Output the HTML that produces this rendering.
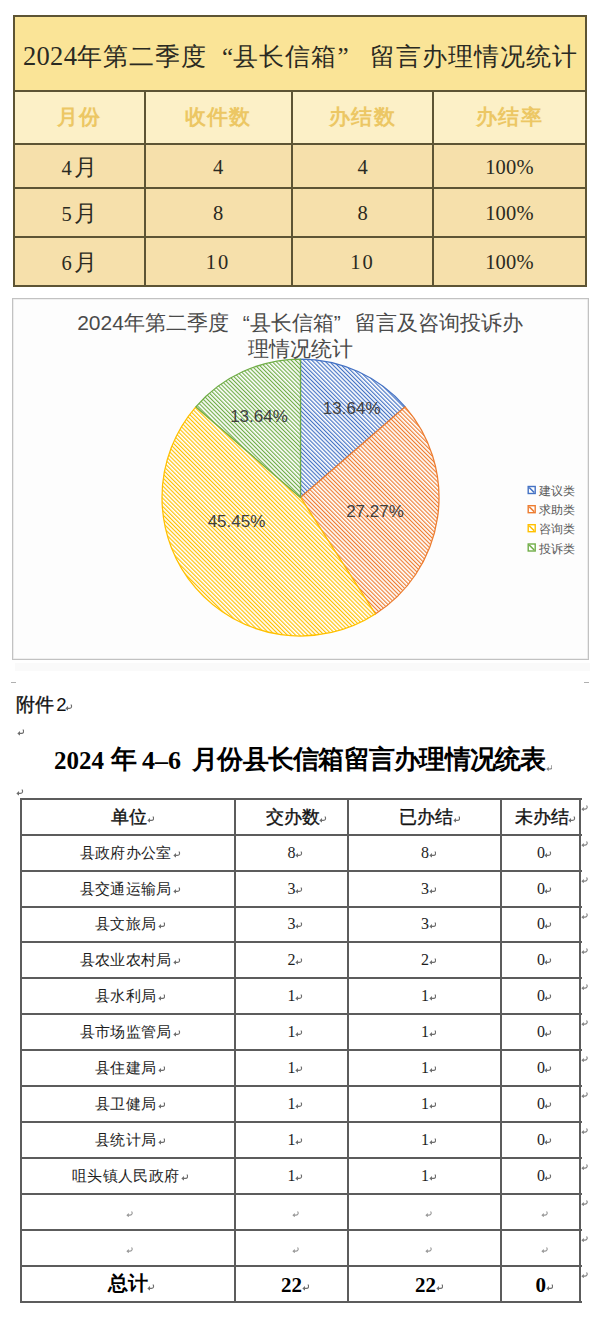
<!DOCTYPE html>
<html><head><meta charset="utf-8">
<style>
html,body{margin:0;padding:0;background:#fff;}
body{width:600px;height:1323px;position:relative;overflow:hidden;font-family:"Liberation Serif",serif;}
.a{position:absolute;}
.h{position:absolute;height:2px;background:#5d5434;}
.v{position:absolute;width:2px;background:#5d5434;}
.t{position:absolute;white-space:nowrap;line-height:1;}
.c{text-align:center;}
.gold{color:#ecc764;font-weight:bold;font-size:21px;letter-spacing:1.2px;}
.dk{color:#2a2a22;}
.bh{position:absolute;height:2px;background:#5c5c5c;}
.bv{position:absolute;width:2px;background:#5c5c5c;}
.pm{display:inline-block;width:8px;height:7px;vertical-align:baseline;margin-left:1px;}
</style></head><body>

<!-- ===== TOP TABLE ===== -->
<div class="a" style="left:14px;top:16px;width:572px;height:75px;background:#fae497;"></div>
<div class="a" style="left:14px;top:91px;width:572px;height:53px;background:#fcf0c7;"></div>
<div class="a" style="left:14px;top:144px;width:572px;height:142px;background:#f6e0ab;"></div>

<div class="h" style="left:13px;top:15px;width:574px;"></div>
<div class="h" style="left:13px;top:90px;width:574px;"></div>
<div class="h" style="left:13px;top:143px;width:574px;"></div>
<div class="h" style="left:13px;top:187px;width:574px;"></div>
<div class="h" style="left:13px;top:236px;width:574px;"></div>
<div class="h" style="left:13px;top:285px;width:574px;"></div>
<div class="v" style="left:13px;top:15px;height:272px;"></div>
<div class="v" style="left:585px;top:15px;height:272px;"></div>
<div class="v" style="left:143.5px;top:90px;height:197px;"></div>
<div class="v" style="left:291px;top:90px;height:197px;"></div>
<div class="v" style="left:432px;top:90px;height:197px;"></div>

<div class="t dk" style="left:23px;top:43px;font-size:25px;letter-spacing:1.1px;font-weight:300;"><span style="display:inline-block;width:53.5px;font-size:26.5px;letter-spacing:0.3px;position:relative;top:-0.5px">2024</span>年第二季度<span style="display:inline-block;width:26.1px;text-align:right;letter-spacing:0">“</span>县长信箱<span style="display:inline-block;width:32px;text-align:left;letter-spacing:0">”</span>留言办理情况统计</div>

<div class="t c gold" style="left:14px;width:130px;top:107px;">月份</div>
<div class="t c gold" style="left:144px;width:148px;top:107px;">收件数</div>
<div class="t c gold" style="left:292px;width:141px;top:107px;">办结数</div>
<div class="t c gold" style="left:433px;width:153px;top:107px;">办结率</div>

<div class="t c dk" style="left:14px;width:130px;top:157px;font-size:20.5px;">4<span style="font-size:22.5px;margin-left:2px">月</span></div>
<div class="t c dk" style="left:144px;width:148px;top:157px;font-size:20.5px;letter-spacing:0;">4</div>
<div class="t c dk" style="left:292px;width:141px;top:157px;font-size:20.5px;letter-spacing:0;">4</div>
<div class="t c dk" style="left:433px;width:153px;top:157px;font-size:20.5px;letter-spacing:0.2px;">100%</div>
<div class="t c dk" style="left:14px;width:130px;top:203px;font-size:20.5px;">5<span style="font-size:22.5px;margin-left:2px">月</span></div>
<div class="t c dk" style="left:144px;width:148px;top:203px;font-size:20.5px;letter-spacing:0;">8</div>
<div class="t c dk" style="left:292px;width:141px;top:203px;font-size:20.5px;letter-spacing:0;">8</div>
<div class="t c dk" style="left:433px;width:153px;top:203px;font-size:20.5px;letter-spacing:0.2px;">100%</div>
<div class="t c dk" style="left:14px;width:130px;top:251.5px;font-size:20.5px;">6<span style="font-size:22.5px;margin-left:2px">月</span></div>
<div class="t c dk" style="left:144px;width:148px;top:251.5px;font-size:20.5px;letter-spacing:2px;">10</div>
<div class="t c dk" style="left:292px;width:141px;top:251.5px;font-size:20.5px;letter-spacing:2px;">10</div>
<div class="t c dk" style="left:433px;width:153px;top:251.5px;font-size:20.5px;letter-spacing:0.2px;">100%</div>

<!-- ===== CHART ===== -->
<div class="a" style="left:11.6px;top:297.5px;width:575.4px;height:360px;border:1px solid #c2c2c2;box-shadow:inset 0 0 0 0.6px #e2e2e2;background:#fdfdfd;"></div>


<svg class="a" style="left:0;top:0" width="600" height="700" viewBox="0 0 600 700">
<defs>
<pattern id="pb" patternUnits="userSpaceOnUse" width="2.9" height="10" patternTransform="rotate(-45)"><rect width="2.9" height="10" fill="#fff"/><rect width="1.15" height="10" fill="#4472c4"/></pattern>
<pattern id="po" patternUnits="userSpaceOnUse" width="2.9" height="10" patternTransform="rotate(-45)"><rect width="2.9" height="10" fill="#fff"/><rect width="1.15" height="10" fill="#ed7d31"/></pattern>
<pattern id="py" patternUnits="userSpaceOnUse" width="2.9" height="10" patternTransform="rotate(-45)"><rect width="2.9" height="10" fill="#fff"/><rect width="1.15" height="10" fill="#ffc000"/></pattern>
<pattern id="pg" patternUnits="userSpaceOnUse" width="2.9" height="10" patternTransform="rotate(-45)"><rect width="2.9" height="10" fill="#fff"/><rect width="1.15" height="10" fill="#70ad47"/></pattern>
</defs>
<path d="M300.5 497.5 L300.50 359.00 A138.5 138.5 0 0 1 405.17 406.80 Z" fill="url(#pb)" stroke="#4472c4" stroke-width="1.25" stroke-linejoin="round"/>
<path d="M300.5 497.5 L405.17 406.80 A138.5 138.5 0 0 1 375.38 614.01 Z" fill="url(#po)" stroke="#ed7d31" stroke-width="1.25" stroke-linejoin="round"/>
<path d="M300.5 497.5 L375.38 614.01 A138.5 138.5 0 0 1 195.83 406.80 Z" fill="url(#py)" stroke="#ffc000" stroke-width="1.25" stroke-linejoin="round"/>
<path d="M300.5 497.5 L195.83 406.80 A138.5 138.5 0 0 1 300.50 359.00 Z" fill="url(#pg)" stroke="#70ad47" stroke-width="1.25" stroke-linejoin="round"/>
<g font-family="Liberation Sans" font-size="17" fill="#404040" text-anchor="middle">
<text x="351.7" y="413.6">13.64%</text>
<text x="259" y="421.6">13.64%</text>
<text x="375" y="516.7">27.27%</text>
<text x="236.5" y="527.4">45.45%</text>
</g>
<rect x="528.2" y="486.5" width="7" height="7" fill="#fff" stroke="#4472c4" stroke-width="1.4"/><path d="M529.2 487.5 L534.2 492.5" stroke="#4472c4" stroke-width="1.6"/>
<rect x="528.2" y="505.7" width="7" height="7" fill="#fff" stroke="#ed7d31" stroke-width="1.4"/><path d="M529.2 506.7 L534.2 511.7" stroke="#ed7d31" stroke-width="1.6"/>
<rect x="528.2" y="524.7" width="7" height="7" fill="#fff" stroke="#ffc000" stroke-width="1.4"/><path d="M529.2 525.7 L534.2 530.7" stroke="#ffc000" stroke-width="1.6"/>
<rect x="528.2" y="544.0" width="7" height="7" fill="#fff" stroke="#70ad47" stroke-width="1.4"/><path d="M529.2 545.0 L534.2 550.0" stroke="#70ad47" stroke-width="1.6"/>
</svg>
<div class="t" style="left:539px;top:482px;font-family:'Liberation Sans',sans-serif;font-size:12px;color:#595959;line-height:19.2px;">建议类<br>求助类<br>咨询类<br>投诉类</div>
<div class="t c" style="left:0;width:600px;top:310px;font-family:'Liberation Sans',sans-serif;font-size:21px;color:#4a4a4a;line-height:26px;">2024年第二季度<span style="display:inline-block;width:21px;text-align:right">“</span>县长信箱<span style="display:inline-block;width:21px;text-align:left">”</span>留言及咨询投诉办<br>理情况统计</div>


<!-- ===== DOC ===== -->
<svg width="0" height="0" style="position:absolute"><defs><symbol id="pm" viewBox="0 0 8 7"><path d="M6.6 0.6 C7.4 2.2 7.2 4.4 4.6 4.5 L2.6 4.5" fill="none" stroke="#6e6e6e" stroke-width="1.3" stroke-linecap="round"/><path d="M0.4 4.5 L3.2 2.0 L3.2 7.0 Z" fill="#6e6e6e"/></symbol></defs></svg>
<div class="a" style="left:15px;top:663px;width:575px;height:8px;background:#fafafa"></div>
<div class="a" style="left:11px;top:682px;width:5px;height:1px;background:#b0b0b0"></div>
<div class="a" style="left:584px;top:682px;width:5px;height:1px;background:#b0b0b0"></div>
<div class="t" style="left:16px;top:695.5px;font-family:'Liberation Sans',sans-serif;font-size:18.5px;-webkit-text-stroke:0.35px #111;color:#111;">附件</div>
<div class="t" style="left:56.3px;top:695.5px;font-family:'Liberation Sans',sans-serif;font-size:18.5px;color:#111;">2</div>
<svg class="a" style="left:65.2px;top:704.0px" width="7.5" height="7" viewBox="0 0 8 7"><use href="#pm"/></svg>
<svg class="a" style="left:16.5px;top:729.0px" width="7.5" height="7" viewBox="0 0 8 7"><use href="#pm"/></svg>
<div class="t" style="left:54px;top:748px;font-family:'Liberation Serif',serif;font-weight:bold;color:#000;font-size:25px;">2024</div>
<div class="t" style="left:111px;top:747px;font-family:'Liberation Serif',serif;font-weight:bold;color:#000;font-size:26px;">年</div>
<div class="t" style="left:142px;top:747.5px;font-family:'Liberation Serif',serif;font-weight:bold;color:#000;font-size:26px;">4–6</div>
<div class="t" style="left:192px;top:747px;font-family:'Liberation Serif',serif;font-weight:bold;color:#000;font-size:26px;letter-spacing:-0.75px;">月份县长信箱留言办理情况统表</div>
<svg class="a" style="left:545.6px;top:764.5px" width="6.8" height="6.3" viewBox="0 0 8 7" opacity=0.85><use href="#pm"/></svg>
<svg class="a" style="left:16.0px;top:788.5px" width="7.5" height="7" viewBox="0 0 8 7"><use href="#pm"/></svg>
<div class="bh" style="left:19.5px;top:798px;width:562px;"></div>
<div class="bh" style="left:19.5px;top:834px;width:562px;"></div>
<div class="bh" style="left:19.5px;top:870px;width:562px;"></div>
<div class="bh" style="left:19.5px;top:906px;width:562px;"></div>
<div class="bh" style="left:19.5px;top:941px;width:562px;"></div>
<div class="bh" style="left:19.5px;top:977px;width:562px;"></div>
<div class="bh" style="left:19.5px;top:1013px;width:562px;"></div>
<div class="bh" style="left:19.5px;top:1049px;width:562px;"></div>
<div class="bh" style="left:19.5px;top:1085px;width:562px;"></div>
<div class="bh" style="left:19.5px;top:1121px;width:562px;"></div>
<div class="bh" style="left:19.5px;top:1157px;width:562px;"></div>
<div class="bh" style="left:19.5px;top:1193px;width:562px;"></div>
<div class="bh" style="left:19.5px;top:1229px;width:562px;"></div>
<div class="bh" style="left:19.5px;top:1265px;width:562px;"></div>
<div class="bh" style="left:19.5px;top:1301px;width:562px;"></div>
<div class="bv" style="left:19.6px;top:798px;height:505px;"></div>
<div class="bv" style="left:233.5px;top:798px;height:505px;"></div>
<div class="bv" style="left:347.2px;top:798px;height:505px;"></div>
<div class="bv" style="left:500.4px;top:798px;height:505px;"></div>
<div class="bv" style="left:579.3px;top:798px;height:505px;"></div>
<div class="t" style="left:110.7px;top:808.5px;font-family:'Liberation Sans',sans-serif;font-size:17.5px;-webkit-text-stroke:0.35px #111;color:#111;">单位</div>
<svg class="a" style="left:146.5px;top:815.5px" width="7.5" height="7" viewBox="0 0 8 7"><use href="#pm"/></svg>
<div class="t" style="left:265.9px;top:808.5px;font-family:'Liberation Sans',sans-serif;font-size:17.5px;-webkit-text-stroke:0.35px #111;color:#111;">交办数</div>
<svg class="a" style="left:319.2px;top:815.5px" width="7.5" height="7" viewBox="0 0 8 7"><use href="#pm"/></svg>
<div class="t" style="left:399.4px;top:808.5px;font-family:'Liberation Sans',sans-serif;font-size:17.5px;-webkit-text-stroke:0.35px #111;color:#111;">已办结</div>
<svg class="a" style="left:452.7px;top:815.5px" width="7.5" height="7" viewBox="0 0 8 7"><use href="#pm"/></svg>
<div class="t" style="left:514.8px;top:808.5px;font-family:'Liberation Sans',sans-serif;font-size:17.5px;-webkit-text-stroke:0.35px #111;color:#111;">未办结</div>
<svg class="a" style="left:568.0px;top:815.5px" width="7.5" height="7" viewBox="0 0 8 7"><use href="#pm"/></svg>
<div class="t" style="left:79.6px;top:845.5px;font-family:'Liberation Serif',serif;font-size:15px;letter-spacing:0.35px;color:#1e1e1e;">县政府办公室</div>
<svg class="a" style="left:173.0px;top:850.8px" width="7.5" height="7" viewBox="0 0 8 7"><use href="#pm"/></svg>
<div class="t" style="left:287.5px;top:844.9px;font-family:'Liberation Serif',serif;font-size:16px;color:#1e1e1e;">8</div>
<svg class="a" style="left:295.0px;top:850.5px" width="7.5" height="7" viewBox="0 0 8 7"><use href="#pm"/></svg>
<div class="t" style="left:421.0px;top:844.9px;font-family:'Liberation Serif',serif;font-size:16px;color:#1e1e1e;">8</div>
<svg class="a" style="left:428.5px;top:850.5px" width="7.5" height="7" viewBox="0 0 8 7"><use href="#pm"/></svg>
<div class="t" style="left:536.9px;top:844.9px;font-family:'Liberation Serif',serif;font-size:16px;color:#1e1e1e;">0</div>
<svg class="a" style="left:544.4px;top:850.5px" width="7.5" height="7" viewBox="0 0 8 7"><use href="#pm"/></svg>
<div class="t" style="left:79.6px;top:881.5px;font-family:'Liberation Serif',serif;font-size:15px;letter-spacing:0.35px;color:#1e1e1e;">县交通运输局</div>
<svg class="a" style="left:173.0px;top:886.8px" width="7.5" height="7" viewBox="0 0 8 7"><use href="#pm"/></svg>
<div class="t" style="left:287.5px;top:880.9px;font-family:'Liberation Serif',serif;font-size:16px;color:#1e1e1e;">3</div>
<svg class="a" style="left:295.0px;top:886.5px" width="7.5" height="7" viewBox="0 0 8 7"><use href="#pm"/></svg>
<div class="t" style="left:421.0px;top:880.9px;font-family:'Liberation Serif',serif;font-size:16px;color:#1e1e1e;">3</div>
<svg class="a" style="left:428.5px;top:886.5px" width="7.5" height="7" viewBox="0 0 8 7"><use href="#pm"/></svg>
<div class="t" style="left:536.9px;top:880.9px;font-family:'Liberation Serif',serif;font-size:16px;color:#1e1e1e;">0</div>
<svg class="a" style="left:544.4px;top:886.5px" width="7.5" height="7" viewBox="0 0 8 7"><use href="#pm"/></svg>
<div class="t" style="left:95.0px;top:917.0px;font-family:'Liberation Serif',serif;font-size:15px;letter-spacing:0.35px;color:#1e1e1e;">县文旅局</div>
<svg class="a" style="left:157.6px;top:922.3px" width="7.5" height="7" viewBox="0 0 8 7"><use href="#pm"/></svg>
<div class="t" style="left:287.5px;top:916.4px;font-family:'Liberation Serif',serif;font-size:16px;color:#1e1e1e;">3</div>
<svg class="a" style="left:295.0px;top:922.0px" width="7.5" height="7" viewBox="0 0 8 7"><use href="#pm"/></svg>
<div class="t" style="left:421.0px;top:916.4px;font-family:'Liberation Serif',serif;font-size:16px;color:#1e1e1e;">3</div>
<svg class="a" style="left:428.5px;top:922.0px" width="7.5" height="7" viewBox="0 0 8 7"><use href="#pm"/></svg>
<div class="t" style="left:536.9px;top:916.4px;font-family:'Liberation Serif',serif;font-size:16px;color:#1e1e1e;">0</div>
<svg class="a" style="left:544.4px;top:922.0px" width="7.5" height="7" viewBox="0 0 8 7"><use href="#pm"/></svg>
<div class="t" style="left:79.6px;top:952.5px;font-family:'Liberation Serif',serif;font-size:15px;letter-spacing:0.35px;color:#1e1e1e;">县农业农村局</div>
<svg class="a" style="left:173.0px;top:957.8px" width="7.5" height="7" viewBox="0 0 8 7"><use href="#pm"/></svg>
<div class="t" style="left:287.5px;top:951.9px;font-family:'Liberation Serif',serif;font-size:16px;color:#1e1e1e;">2</div>
<svg class="a" style="left:295.0px;top:957.5px" width="7.5" height="7" viewBox="0 0 8 7"><use href="#pm"/></svg>
<div class="t" style="left:421.0px;top:951.9px;font-family:'Liberation Serif',serif;font-size:16px;color:#1e1e1e;">2</div>
<svg class="a" style="left:428.5px;top:957.5px" width="7.5" height="7" viewBox="0 0 8 7"><use href="#pm"/></svg>
<div class="t" style="left:536.9px;top:951.9px;font-family:'Liberation Serif',serif;font-size:16px;color:#1e1e1e;">0</div>
<svg class="a" style="left:544.4px;top:957.5px" width="7.5" height="7" viewBox="0 0 8 7"><use href="#pm"/></svg>
<div class="t" style="left:95.0px;top:988.5px;font-family:'Liberation Serif',serif;font-size:15px;letter-spacing:0.35px;color:#1e1e1e;">县水利局</div>
<svg class="a" style="left:157.6px;top:993.8px" width="7.5" height="7" viewBox="0 0 8 7"><use href="#pm"/></svg>
<div class="t" style="left:287.5px;top:987.9px;font-family:'Liberation Serif',serif;font-size:16px;color:#1e1e1e;">1</div>
<svg class="a" style="left:295.0px;top:993.5px" width="7.5" height="7" viewBox="0 0 8 7"><use href="#pm"/></svg>
<div class="t" style="left:421.0px;top:987.9px;font-family:'Liberation Serif',serif;font-size:16px;color:#1e1e1e;">1</div>
<svg class="a" style="left:428.5px;top:993.5px" width="7.5" height="7" viewBox="0 0 8 7"><use href="#pm"/></svg>
<div class="t" style="left:536.9px;top:987.9px;font-family:'Liberation Serif',serif;font-size:16px;color:#1e1e1e;">0</div>
<svg class="a" style="left:544.4px;top:993.5px" width="7.5" height="7" viewBox="0 0 8 7"><use href="#pm"/></svg>
<div class="t" style="left:79.6px;top:1024.5px;font-family:'Liberation Serif',serif;font-size:15px;letter-spacing:0.35px;color:#1e1e1e;">县市场监管局</div>
<svg class="a" style="left:173.0px;top:1029.8px" width="7.5" height="7" viewBox="0 0 8 7"><use href="#pm"/></svg>
<div class="t" style="left:287.5px;top:1023.9px;font-family:'Liberation Serif',serif;font-size:16px;color:#1e1e1e;">1</div>
<svg class="a" style="left:295.0px;top:1029.5px" width="7.5" height="7" viewBox="0 0 8 7"><use href="#pm"/></svg>
<div class="t" style="left:421.0px;top:1023.9px;font-family:'Liberation Serif',serif;font-size:16px;color:#1e1e1e;">1</div>
<svg class="a" style="left:428.5px;top:1029.5px" width="7.5" height="7" viewBox="0 0 8 7"><use href="#pm"/></svg>
<div class="t" style="left:536.9px;top:1023.9px;font-family:'Liberation Serif',serif;font-size:16px;color:#1e1e1e;">0</div>
<svg class="a" style="left:544.4px;top:1029.5px" width="7.5" height="7" viewBox="0 0 8 7"><use href="#pm"/></svg>
<div class="t" style="left:95.0px;top:1060.5px;font-family:'Liberation Serif',serif;font-size:15px;letter-spacing:0.35px;color:#1e1e1e;">县住建局</div>
<svg class="a" style="left:157.6px;top:1065.8px" width="7.5" height="7" viewBox="0 0 8 7"><use href="#pm"/></svg>
<div class="t" style="left:287.5px;top:1059.9px;font-family:'Liberation Serif',serif;font-size:16px;color:#1e1e1e;">1</div>
<svg class="a" style="left:295.0px;top:1065.5px" width="7.5" height="7" viewBox="0 0 8 7"><use href="#pm"/></svg>
<div class="t" style="left:421.0px;top:1059.9px;font-family:'Liberation Serif',serif;font-size:16px;color:#1e1e1e;">1</div>
<svg class="a" style="left:428.5px;top:1065.5px" width="7.5" height="7" viewBox="0 0 8 7"><use href="#pm"/></svg>
<div class="t" style="left:536.9px;top:1059.9px;font-family:'Liberation Serif',serif;font-size:16px;color:#1e1e1e;">0</div>
<svg class="a" style="left:544.4px;top:1065.5px" width="7.5" height="7" viewBox="0 0 8 7"><use href="#pm"/></svg>
<div class="t" style="left:95.0px;top:1096.5px;font-family:'Liberation Serif',serif;font-size:15px;letter-spacing:0.35px;color:#1e1e1e;">县卫健局</div>
<svg class="a" style="left:157.6px;top:1101.8px" width="7.5" height="7" viewBox="0 0 8 7"><use href="#pm"/></svg>
<div class="t" style="left:287.5px;top:1095.9px;font-family:'Liberation Serif',serif;font-size:16px;color:#1e1e1e;">1</div>
<svg class="a" style="left:295.0px;top:1101.5px" width="7.5" height="7" viewBox="0 0 8 7"><use href="#pm"/></svg>
<div class="t" style="left:421.0px;top:1095.9px;font-family:'Liberation Serif',serif;font-size:16px;color:#1e1e1e;">1</div>
<svg class="a" style="left:428.5px;top:1101.5px" width="7.5" height="7" viewBox="0 0 8 7"><use href="#pm"/></svg>
<div class="t" style="left:536.9px;top:1095.9px;font-family:'Liberation Serif',serif;font-size:16px;color:#1e1e1e;">0</div>
<svg class="a" style="left:544.4px;top:1101.5px" width="7.5" height="7" viewBox="0 0 8 7"><use href="#pm"/></svg>
<div class="t" style="left:95.0px;top:1132.5px;font-family:'Liberation Serif',serif;font-size:15px;letter-spacing:0.35px;color:#1e1e1e;">县统计局</div>
<svg class="a" style="left:157.6px;top:1137.8px" width="7.5" height="7" viewBox="0 0 8 7"><use href="#pm"/></svg>
<div class="t" style="left:287.5px;top:1131.9px;font-family:'Liberation Serif',serif;font-size:16px;color:#1e1e1e;">1</div>
<svg class="a" style="left:295.0px;top:1137.5px" width="7.5" height="7" viewBox="0 0 8 7"><use href="#pm"/></svg>
<div class="t" style="left:421.0px;top:1131.9px;font-family:'Liberation Serif',serif;font-size:16px;color:#1e1e1e;">1</div>
<svg class="a" style="left:428.5px;top:1137.5px" width="7.5" height="7" viewBox="0 0 8 7"><use href="#pm"/></svg>
<div class="t" style="left:536.9px;top:1131.9px;font-family:'Liberation Serif',serif;font-size:16px;color:#1e1e1e;">0</div>
<svg class="a" style="left:544.4px;top:1137.5px" width="7.5" height="7" viewBox="0 0 8 7"><use href="#pm"/></svg>
<div class="t" style="left:71.9px;top:1168.5px;font-family:'Liberation Serif',serif;font-size:15px;letter-spacing:0.35px;color:#1e1e1e;">咀头镇人民政府</div>
<svg class="a" style="left:180.7px;top:1173.8px" width="7.5" height="7" viewBox="0 0 8 7"><use href="#pm"/></svg>
<div class="t" style="left:287.5px;top:1167.9px;font-family:'Liberation Serif',serif;font-size:16px;color:#1e1e1e;">1</div>
<svg class="a" style="left:295.0px;top:1173.5px" width="7.5" height="7" viewBox="0 0 8 7"><use href="#pm"/></svg>
<div class="t" style="left:421.0px;top:1167.9px;font-family:'Liberation Serif',serif;font-size:16px;color:#1e1e1e;">1</div>
<svg class="a" style="left:428.5px;top:1173.5px" width="7.5" height="7" viewBox="0 0 8 7"><use href="#pm"/></svg>
<div class="t" style="left:536.9px;top:1167.9px;font-family:'Liberation Serif',serif;font-size:16px;color:#1e1e1e;">0</div>
<svg class="a" style="left:544.4px;top:1173.5px" width="7.5" height="7" viewBox="0 0 8 7"><use href="#pm"/></svg>
<svg class="a" style="left:125.7px;top:1210.7px" width="7" height="6.5" viewBox="0 0 8 7" opacity=0.7><use href="#pm"/></svg>
<svg class="a" style="left:291.7px;top:1210.7px" width="7" height="6.5" viewBox="0 0 8 7" opacity=0.7><use href="#pm"/></svg>
<svg class="a" style="left:425.2px;top:1210.7px" width="7" height="6.5" viewBox="0 0 8 7" opacity=0.7><use href="#pm"/></svg>
<svg class="a" style="left:541.1px;top:1210.7px" width="7" height="6.5" viewBox="0 0 8 7" opacity=0.7><use href="#pm"/></svg>
<svg class="a" style="left:125.7px;top:1246.7px" width="7" height="6.5" viewBox="0 0 8 7" opacity=0.7><use href="#pm"/></svg>
<svg class="a" style="left:291.7px;top:1246.7px" width="7" height="6.5" viewBox="0 0 8 7" opacity=0.7><use href="#pm"/></svg>
<svg class="a" style="left:425.2px;top:1246.7px" width="7" height="6.5" viewBox="0 0 8 7" opacity=0.7><use href="#pm"/></svg>
<svg class="a" style="left:541.1px;top:1246.7px" width="7" height="6.5" viewBox="0 0 8 7" opacity=0.7><use href="#pm"/></svg>
<div class="t" style="left:108.2px;top:1274.0px;font-family:'Liberation Sans',sans-serif;font-size:19.5px;font-weight:bold;color:#000;">总计</div>
<svg class="a" style="left:147.0px;top:1283.5px" width="7.5" height="7" viewBox="0 0 8 7"><use href="#pm"/></svg>
<div class="t" style="left:281.0px;top:1274.6px;font-family:'Liberation Serif',serif;font-size:21px;font-weight:bold;color:#000;">22</div>
<svg class="a" style="left:301.5px;top:1283.5px" width="7.5" height="7" viewBox="0 0 8 7"><use href="#pm"/></svg>
<div class="t" style="left:415.0px;top:1274.6px;font-family:'Liberation Serif',serif;font-size:21px;font-weight:bold;color:#000;">22</div>
<svg class="a" style="left:435.5px;top:1283.5px" width="7.5" height="7" viewBox="0 0 8 7"><use href="#pm"/></svg>
<div class="t" style="left:535.6px;top:1274.6px;font-family:'Liberation Serif',serif;font-size:21px;font-weight:bold;color:#000;">0</div>
<svg class="a" style="left:545.6px;top:1283.5px" width="7.5" height="7" viewBox="0 0 8 7"><use href="#pm"/></svg>
<svg class="a" style="left:580.5px;top:804.5px" width="7" height="6.5" viewBox="0 0 8 7" opacity=0.85><use href="#pm"/></svg>
<svg class="a" style="left:580.5px;top:840.5px" width="7" height="6.5" viewBox="0 0 8 7" opacity=0.85><use href="#pm"/></svg>
<svg class="a" style="left:580.5px;top:876.5px" width="7" height="6.5" viewBox="0 0 8 7" opacity=0.85><use href="#pm"/></svg>
<svg class="a" style="left:580.5px;top:912.5px" width="7" height="6.5" viewBox="0 0 8 7" opacity=0.85><use href="#pm"/></svg>
<svg class="a" style="left:580.5px;top:947.5px" width="7" height="6.5" viewBox="0 0 8 7" opacity=0.85><use href="#pm"/></svg>
<svg class="a" style="left:580.5px;top:983.5px" width="7" height="6.5" viewBox="0 0 8 7" opacity=0.85><use href="#pm"/></svg>
<svg class="a" style="left:580.5px;top:1019.5px" width="7" height="6.5" viewBox="0 0 8 7" opacity=0.85><use href="#pm"/></svg>
<svg class="a" style="left:580.5px;top:1055.5px" width="7" height="6.5" viewBox="0 0 8 7" opacity=0.85><use href="#pm"/></svg>
<svg class="a" style="left:580.5px;top:1091.5px" width="7" height="6.5" viewBox="0 0 8 7" opacity=0.85><use href="#pm"/></svg>
<svg class="a" style="left:580.5px;top:1127.5px" width="7" height="6.5" viewBox="0 0 8 7" opacity=0.85><use href="#pm"/></svg>
<svg class="a" style="left:580.5px;top:1163.5px" width="7" height="6.5" viewBox="0 0 8 7" opacity=0.85><use href="#pm"/></svg>
<svg class="a" style="left:580.5px;top:1199.5px" width="7" height="6.5" viewBox="0 0 8 7" opacity=0.85><use href="#pm"/></svg>
<svg class="a" style="left:580.5px;top:1235.5px" width="7" height="6.5" viewBox="0 0 8 7" opacity=0.85><use href="#pm"/></svg>
<svg class="a" style="left:580.5px;top:1271.5px" width="7" height="6.5" viewBox="0 0 8 7" opacity=0.85><use href="#pm"/></svg>
</body></html>
